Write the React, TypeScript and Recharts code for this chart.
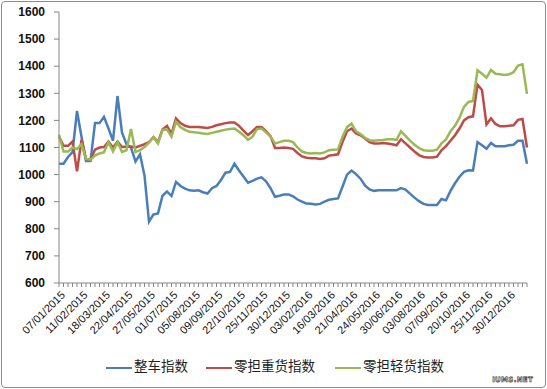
import { CartesianGrid, Line, LineChart, XAxis, YAxis } from "recharts";

// 每5个周期标一个日期
const tickLabels = [
  "07/01/2015", "11/02/2015", "18/03/2015", "22/04/2015", "27/05/2015", "01/07/2015",
  "05/08/2015", "09/09/2015", "22/10/2015", "25/11/2015", "30/12/2015", "03/02/2016",
  "16/03/2016", "21/04/2016", "24/05/2016", "30/06/2016", "03/08/2016", "07/09/2016",
  "20/10/2016", "25/11/2016", "30/12/2016",
];

const zhengche = [
  1040, 1040, 1065, 1083, 1235, 1140, 1050, 1050, 1190, 1190,
  1213, 1170, 1125, 1290, 1155, 1112, 1100, 1048, 1075, 997,
  826, 853, 857, 922, 938, 921, 973, 958, 948, 942,
  940, 942, 935, 930, 950, 958, 980, 1007, 1010, 1040,
  1015, 993, 970, 977, 985, 990, 975, 950, 918, 922,
  927, 927, 920, 908, 900, 893, 892, 890, 892, 900,
  907, 910, 912, 955, 1000, 1015, 1002, 985, 960, 945,
  940, 942, 942, 942, 942, 942, 950, 945, 930, 915,
  902, 892, 888, 888, 888, 910, 905, 940, 968, 992,
  1010, 1016, 1015, 1120, 1108, 1095, 1117, 1105, 1105, 1105,
  1108, 1110, 1125, 1125, 1040,
];

const lingdanZhong = [
  1140, 1106, 1106, 1122, 1012, 1128, 1058, 1055, 1092, 1100,
  1102, 1122, 1100, 1122, 1102, 1103, 1104, 1100, 1106, 1112,
  1120, 1138, 1120, 1166, 1180, 1150, 1207, 1190, 1180, 1176,
  1176, 1176, 1174, 1172, 1176, 1182, 1186, 1190, 1192, 1192,
  1180, 1162, 1146, 1160, 1176, 1176, 1160, 1142, 1098, 1098,
  1100, 1098, 1095, 1080, 1067, 1062, 1060, 1060, 1058, 1060,
  1070, 1072, 1075, 1120, 1160, 1170, 1152, 1145, 1133, 1120,
  1115, 1115, 1117, 1115, 1112, 1108, 1130, 1115, 1100, 1085,
  1072, 1065, 1063, 1063, 1066, 1090, 1105, 1125, 1145, 1170,
  1200, 1212, 1215, 1332, 1312, 1185, 1208, 1187, 1178, 1178,
  1180, 1182, 1202, 1205, 1100,
];

const lingdanQing = [
  1147, 1085, 1085, 1100, 1094, 1112, 1058, 1055, 1070, 1078,
  1083, 1120, 1086, 1120, 1084, 1090, 1168, 1083, 1090, 1102,
  1118, 1138, 1115, 1165, 1166, 1140, 1195, 1175, 1165, 1158,
  1156, 1154, 1152, 1150, 1154, 1158, 1162, 1166, 1168, 1170,
  1158, 1145, 1128, 1140, 1168, 1170, 1156, 1140, 1115, 1120,
  1125, 1125, 1120, 1100, 1085, 1080, 1078, 1080, 1078, 1082,
  1090, 1092, 1093, 1140, 1175, 1188, 1160, 1150, 1136, 1127,
  1125, 1127, 1128, 1130, 1130, 1128, 1160, 1143, 1125, 1110,
  1098, 1090, 1088, 1088, 1092, 1115, 1130, 1160, 1180, 1210,
  1250, 1268, 1272, 1385, 1372, 1358, 1386, 1372, 1370, 1368,
  1370, 1378, 1402, 1407, 1298,
];

const yTicks = [600, 700, 800, 900, 1000, 1100, 1200, 1300, 1400, 1500, 1600];

const seriesMeta = [
  { key: "zhengche", name: "整车指数", color: "#4A7EBB" },
  { key: "lingdanZhong", name: "零担重货指数", color: "#BE4B48" },
  { key: "lingdanQing", name: "零担轻货指数", color: "#98B954" },
];

const chartData = zhengche.map((v, i) => ({
  idx: i,
  zhengche: v,
  lingdanZhong: lingdanZhong[i],
  lingdanQing: lingdanQing[i],
}));

const axisGray = "#868686";

function DateTick({ x, y, payload }: { x?: number; y?: number; payload?: { value: number } }) {
  const i = Number(payload?.value ?? 0);
  if (i % 5 !== 0) return null;
  const label = tickLabels[i / 5];
  if (!label) return null;
  return (
    <g transform={`translate(${(x ?? 0) + 4},${(y ?? 0) + 4})`}>
      <text
        x={0}
        y={0}
        dy="0.35em"
        textAnchor="end"
        transform="rotate(-45)"
        fontSize={11}
        fontFamily="'Liberation Sans', Arial, sans-serif"
        fill="#111"
      >
        {label}
      </text>
    </g>
  );
}

function LegendRow() {
  const pos = [106, 206, 335];
  return (
    <>
      {seriesMeta.map((s, k) => (
        <div
          key={s.key}
          style={{
            position: "absolute",
            left: pos[k],
            top: 355,
            height: 20,
            display: "flex",
            alignItems: "center",
            fontFamily: "'Noto Sans CJK SC', sans-serif",
            fontSize: 13.5,
            color: "#222",
            whiteSpace: "nowrap",
          }}
        >
          <span
            style={{
              display: "inline-block",
              width: 26,
              height: 2,
              background: s.color,
              marginTop: 6,
              marginRight: 2,
            }}
          />
          <span>{s.name}</span>
        </div>
      ))}
    </>
  );
}

export default function App() {
  return (
    <div
      style={{
        position: "absolute",
        left: 0,
        top: 0,
        width: 547,
        height: 389,
        background: "#fff",
        overflow: "hidden",
      }}
    >
      <LineChart
        width={547}
        height={389}
        data={chartData}
        margin={{ top: 12, right: 20, bottom: 0, left: 0 }}
      >
        <CartesianGrid horizontal={false} vertical={false} />
        <XAxis
          dataKey="idx"
          type="category"
          interval={0}
          height={106}
          tickSize={4}
          tickMargin={2}
          axisLine={{ stroke: axisGray }}
          tickLine={{ stroke: axisGray }}
          tick={<DateTick />}
        />
        <YAxis
          width={59}
          domain={[600, 1600]}
          ticks={yTicks}
          tickSize={5}
          tickMargin={9}
          axisLine={{ stroke: axisGray }}
          tickLine={{ stroke: axisGray }}
          tick={{
            fill: "#111",
            fontSize: 12,
            fontWeight: 700,
            fontFamily: "'Liberation Sans', Arial, sans-serif",
          }}
        />
        {seriesMeta.map((s) => (
          <Line
            key={s.key}
            type="linear"
            dataKey={s.key}
            name={s.name}
            stroke={s.color}
            strokeWidth={2.5}
            dot={false}
            activeDot={false}
            isAnimationActive={false}
          />
        ))}
      </LineChart>
      <LegendRow />
      <div
        style={{
          position: "absolute",
          right: 14,
          bottom: 5,
          fontFamily: "'DejaVu Sans', sans-serif",
          fontSize: 7,
          fontWeight: 700,
          color: "#fff",
          WebkitTextStroke: "0.6px #333",
          letterSpacing: 0.3,
        }}
      >
        IUMS.NET
      </div>
      <div
        style={{
          position: "absolute",
          left: 1,
          top: 1,
          width: 543,
          height: 385,
          border: "1px solid #8c8c8c",
          borderRadius: 4,
          pointerEvents: "none",
        }}
      />
    </div>
  );
}
